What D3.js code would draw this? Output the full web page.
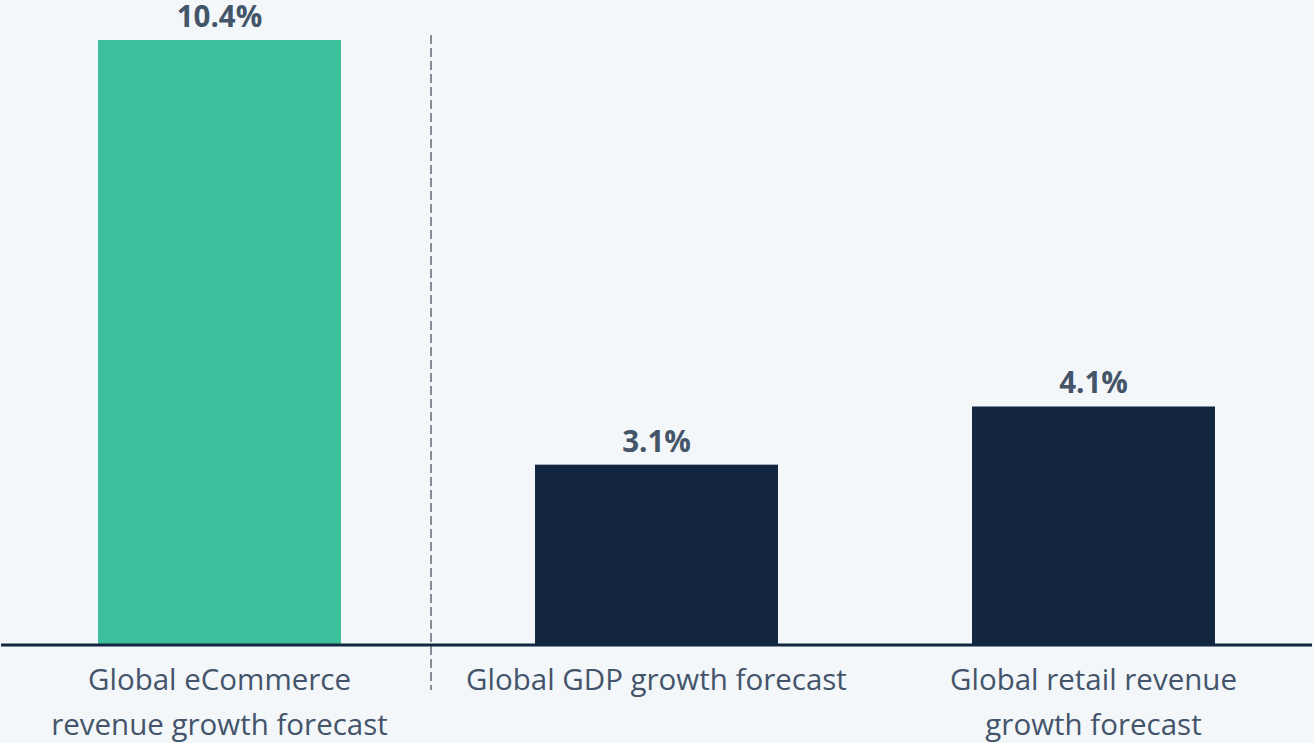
<!DOCTYPE html>
<html>
<head>
<meta charset="utf-8">
<script src="https://cdn.jsdelivr.net/npm/d3@7"></script>
<style>
  html, body { margin: 0; padding: 0; background: #f3f7fa; }
  svg { display: block; font-family: "Open Sans", sans-serif; }
</style>
</head>
<body>
<svg id="chart"></svg>
<script>
// chart data
const categories = ["Global eCommerce revenue growth forecast", "Global GDP growth forecast", "Global retail revenue growth forecast"];
const labelLines = [["Global eCommerce", "revenue growth forecast"], ["Global GDP growth forecast"], ["Global retail revenue", "growth forecast"]];
const values = [10.4, 3.1, 4.1];
const valueLabels = ["10.4%", "3.1%", "4.1%"];

const width = 1314;
const height = 743;
const baseY = 645;

const svg = d3.select("#chart")
    .attr("width", width)
    .attr("height", height);

var x = d3.scaleBand()
    .domain(categories)
    .range([1, 1312])
    .paddingInner(0.444)
    .paddingOuter(0.222);

var y = d3.scaleLinear()
    .domain([0, 10.4])
    .range([baseY, 40]);

// bars
svg.selectAll("rect.bar")
  .data(values)
  .enter().append("rect")
    .attr("class", "bar")
    .attr("x", (d, i) => x(categories[i]))
    .attr("y", d => y(d))
    .attr("width", x.bandwidth())
    .attr("height", d => baseY - y(d))
    .attr("fill", (d, i) => i == 0 ? "#3dc19c" : "#12263f");

// value labels
svg.selectAll("text.val")
  .data(values)
  .enter().append("text")
    .attr("class", "val")
    .attr("x", (d, i) => x(categories[i]) + x.bandwidth() / 2)
    .attr("y", d => y(d) - 13)
    .attr("text-anchor", "middle")
    .attr("font-size", 29.5)
    .attr("font-weight", "bold")
    .attr("fill", "#445569")
    .text((d, i) => valueLabels[i]);

// dashed separator between first and rest
const sepX = x(categories[1]) - 104;
svg.append("line")
    .attr("x1", sepX).attr("x2", sepX)
    .attr("y1", 35).attr("y2", 690)
    .attr("stroke", "#55606e")
    .attr("stroke-width", 1.4)
    .attr("stroke-dasharray", "9,4");

// baseline
svg.append("line")
    .attr("x1", 1).attr("x2", 1312)
    .attr("y1", baseY).attr("y2", baseY)
    .attr("stroke", "#12263f")
    .attr("stroke-width", 3);

// category labels
const cat = svg.selectAll("text.cat")
  .data(categories)
  .enter().append("text")
    .attr("class", "cat")
    .attr("x", d => x(d) + x.bandwidth() / 2)
    .attr("y", 690)
    .attr("text-anchor", "middle")
    .attr("font-size", 29.5)
    .attr("fill", "#44546a");

cat.each(function(d, i) {
    var t = d3.select(this);
    labelLines[i].forEach((line, j) => {
        t.append("tspan")
            .attr("x", x(d) + x.bandwidth() / 2)
            .attr("dy", j == 0 ? 0 : 45)
            .text(line);
    });
});
</script>
</body>
</html>
